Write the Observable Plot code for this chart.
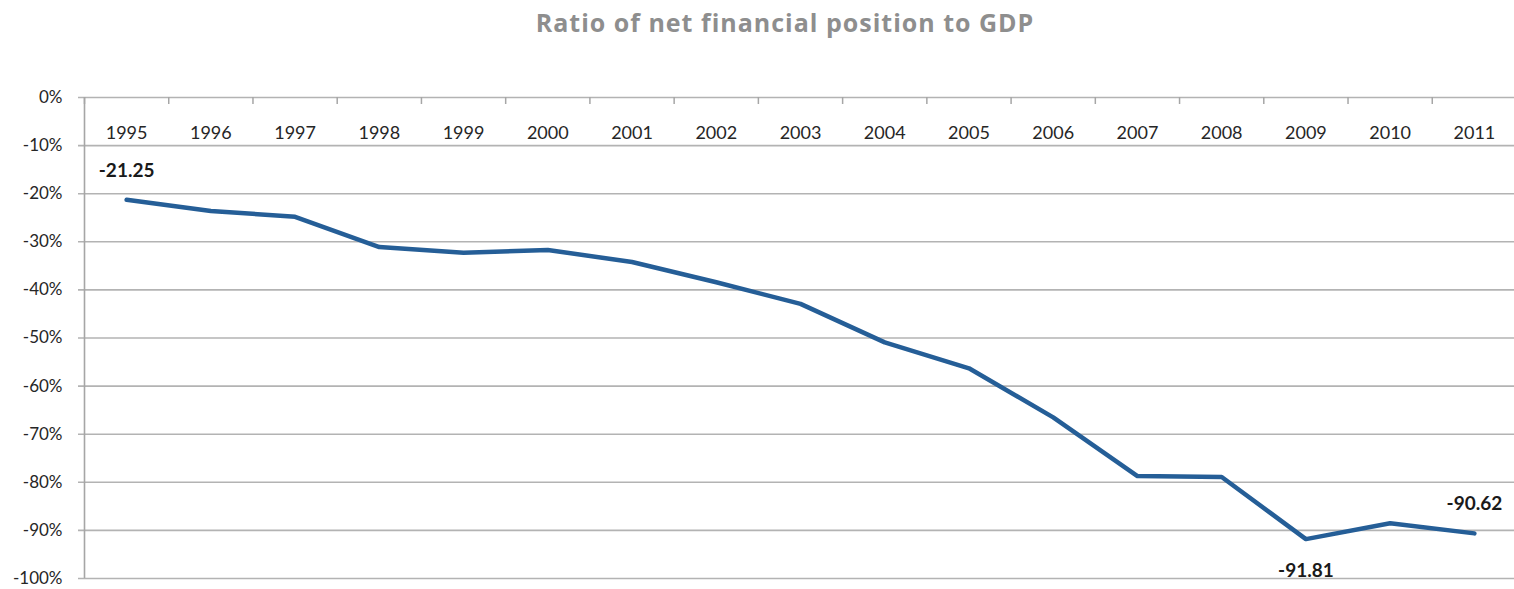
<!DOCTYPE html>
<html>
<head>
<meta charset="utf-8">
<script src="https://cdn.jsdelivr.net/npm/d3@7"></script>
<script src="https://cdn.jsdelivr.net/npm/@observablehq/plot@0.6"></script>
<style>
  html, body { margin: 0; padding: 0; background: #fff; }
  body { width: 1514px; height: 589px; overflow: hidden; font-family: Lato, "Open Sans", sans-serif; }
  #title { height: 45px; line-height: 45px; font-family: "Open Sans", sans-serif; font-size: 25px; letter-spacing: 1px; font-weight: bold; color: #8e8e8e; text-align: center; padding-left: 56px; box-sizing: border-box; width: 1514px; }
  svg { display: block; }
</style>
</head>
<body>
<div id="title">Ratio of net financial position to GDP</div>
<div id="chart"></div>
<script>
const years = [1995, 1996, 1997, 1998, 1999, 2000, 2001, 2002, 2003, 2004, 2005, 2006, 2007, 2008, 2009, 2010, 2011];
const ratio = [-21.25, -23.6, -24.8, -31.1, -32.3, -31.7, -34.2, -38.4, -42.9, -50.9, -56.3, -66.5, -78.7, -78.9, -91.81, -88.5, -90.62];
const yTicks = [0, -10, -20, -30, -40, -50, -60, -70, -80, -90, -100];
const labelsAbove = [{year: 1995, value: -21.25}, {year: 2011, value: -90.62}];
const labelsBelow = [{year: 2009, value: -91.81}];

const data = years.map((y, i) => ({year: y, value: ratio[i]}));
const boundaries = years.map(y => y - 0.5);

const chart = Plot.plot({
  width: 1514,
  height: 544,
  marginTop: 52,
  marginBottom: 11,
  marginLeft: 84,
  marginRight: -2,
  style: {fontFamily: "Lato, 'Open Sans', sans-serif", fontSize: "17px", color: "#262626", background: "#fff"},
  x: {type: "linear", domain: [1994.5, 2011.5]},
  y: {domain: [-100, 0]},
  marks: [
    Plot.ruleY(yTicks, {stroke: "#b3b3b3", strokeWidth: 1.6, insetLeft: -6}),
    Plot.ruleX([1994.5], {stroke: "#a6a6a6", strokeWidth: 1.6}),
    Plot.ruleX(boundaries, {x: d => d, y1: 0, y2: 0, insetBottom: -7, stroke: "#a6a6a6", strokeWidth: 1.5}),
    Plot.axisY({ticks: yTicks, tickSize: 0, tickPadding: 22, tickFormat: d => d + "%", fontSize: 17, fill: "#262626", label: null}),
    Plot.axisX({anchor: "top", ticks: years, tickSize: 0, tickFormat: d => String(d), dy: 50, fontSize: 18, fill: "#262626", label: null}),
    Plot.line(data, {x: "year", y: "value", stroke: "#255e97", strokeWidth: 4.5, strokeLinejoin: "round", strokeLinecap: "round"}),
    Plot.text(labelsAbove, {x: "year", y: "value", text: d => d.value.toFixed(2), dy: -29, fontWeight: "bold", fontSize: 19, fill: "#1a1a1a"}),
    Plot.text(labelsBelow, {x: "year", y: "value", text: d => d.value.toFixed(2), dy: 32, fontWeight: "bold", fontSize: 19, fill: "#1a1a1a"})
  ]
});
document.getElementById("chart").appendChild(chart);
</script>
</body>
</html>
